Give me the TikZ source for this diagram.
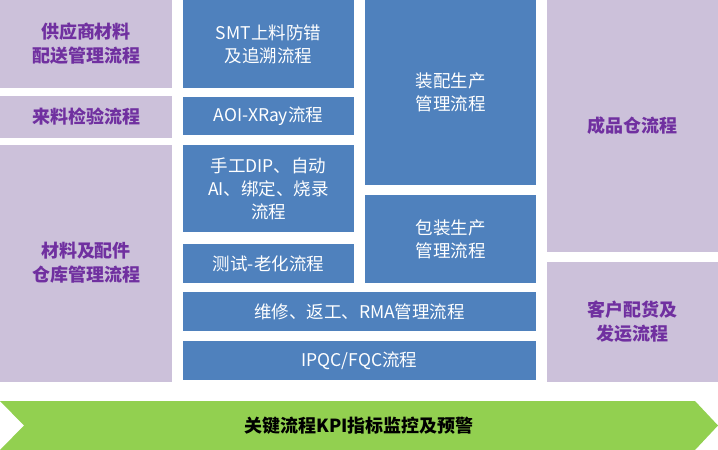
\documentclass[tikz,border=0pt]{standalone}
\usepackage{fontspec}
\setmainfont{Noto Sans CJK SC}
\definecolor{boxblue}{HTML}{4F81BD}
\definecolor{boxlav}{HTML}{CCC1DA}
\definecolor{txtpurple}{HTML}{7030A0}
\definecolor{arrowgreen}{HTML}{92D050}
\tikzset{
  blue box/.style={fill=boxblue, text=white, align=center, font=\fontsize{17.5}{23}\selectfont},
  lav box/.style={fill=boxlav, text=txtpurple, align=center, font=\bfseries\fontsize{18}{24}\selectfont},
}
\begin{document}
\begin{tikzpicture}[x=1pt,y=-1pt]
  \useasboundingbox (0,0) rectangle (718,450);
  % left column
  \fill[boxlav] (0,0) rectangle (172,88);
  \node[lav box] (supply) at (86,44) {供应商材料\\配送管理流程};
  \fill[boxlav] (0,96) rectangle (172,138);
  \node[lav box] (incoming) at (86,117) {来料检验流程};
  \fill[boxlav] (0,145) rectangle (172,382);
  \node[lav box] (store) at (86,263) {材料及配件\\仓库管理流程};
  % middle column
  \fill[boxblue] (183,0) rectangle (354,88);
  \node[blue box] (smt) at (268.5,44) {SMT上料防错\\及追溯流程};
  \fill[boxblue] (183,97) rectangle (354,135);
  \node[blue box] (aoi) at (268.5,116) {AOI-XRay流程};
  \fill[boxblue] (183,145) rectangle (354,232);
  \node[blue box] (manual) at (268.5,188.5) {手工DIP、自动\\AI、绑定、烧录\\流程};
  \fill[boxblue] (183,244) rectangle (354,283);
  \node[blue box] (test) at (268.5,263.5) {测试-老化流程};
  \fill[boxblue] (183,292) rectangle (536,331);
  \node[blue box] (repair) at (359.5,311.5) {维修、返工、RMA管理流程};
  \fill[boxblue] (183,341) rectangle (536,380);
  \node[blue box] (ipqc) at (359.5,360.5) {IPQC/FQC流程};
  % right blue column
  \fill[boxblue] (365,0) rectangle (536,185);
  \node[blue box] (assembly) at (450.5,92) {装配生产\\管理流程};
  \fill[boxblue] (365,195) rectangle (536,283);
  \node[blue box] (packing) at (450.5,239) {包装生产\\管理流程};
  % far right column
  \fill[boxlav] (547,0) rectangle (718,252);
  \node[lav box] (finished) at (632.5,126) {成品仓流程};
  \fill[boxlav] (547,262) rectangle (718,382);
  \node[lav box] (ship) at (632.5,322) {客户配货及\\发运流程};
  % KPI arrow
  \fill[arrowgreen] (0,401) -- (695,401) -- (718,425.5) -- (695,450)
    -- (0,450) -- (24,425.5) -- cycle;
  \node[font=\bfseries\fontsize{18}{22}\selectfont] (kpi) at (359,425.5) {关键流程KPI指标监控及预警};
\end{tikzpicture}
\end{document}
